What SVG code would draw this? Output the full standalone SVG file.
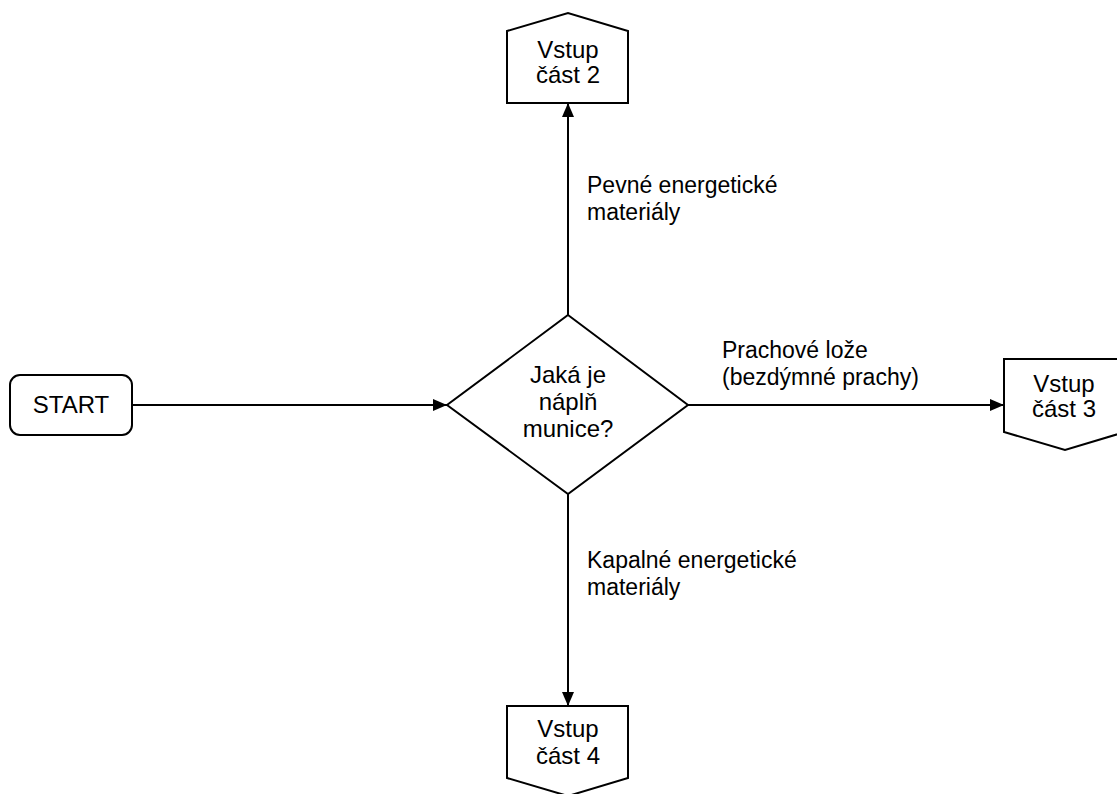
<svg xmlns="http://www.w3.org/2000/svg" width="1117" height="794" viewBox="0 0 1117 794">
<style>
.s{fill:#fff;stroke:#000;stroke-width:2;stroke-linejoin:miter}
.c{fill:none;stroke:#000;stroke-width:2}
text{font-family:"Liberation Sans",Arial,sans-serif;font-size:24px;fill:#000}
.l{font-size:23px}
.m{text-anchor:middle}
</style>
<defs>
<marker id="ah" viewBox="0 0 14 12" refX="14" refY="6" markerWidth="14" markerHeight="12" markerUnits="userSpaceOnUse" orient="auto">
<path d="M0,0 L14,6 L0,12 Z" fill="#000"/>
</marker>
</defs>
<rect width="1117" height="794" fill="#fff"/>
<g id="connectors">
<line class="c" x1="132" y1="405" x2="447" y2="405" marker-end="url(#ah)"/>
<line class="c" x1="568" y1="315" x2="568" y2="103" marker-end="url(#ah)"/>
<line class="c" x1="688" y1="405" x2="1004" y2="405" marker-end="url(#ah)"/>
<line class="c" x1="568" y1="494" x2="568" y2="706" marker-end="url(#ah)"/>
<text class="l" x="587" y="193">Pevné energetické</text>
<text class="l" x="587" y="220">materiály</text>
<text class="l" x="722" y="358">Prachové lože</text>
<text class="l" x="722" y="385">(bezdýmné prachy)</text>
<text class="l" x="587" y="568">Kapalné energetické</text>
<text class="l" x="587" y="595">materiály</text>
</g>
<g id="start">
<rect class="s" x="10" y="375" width="122" height="60" rx="10" ry="10"/>
<text class="m" x="71" y="413">START</text>
</g>
<g id="decision">
<polygon class="s" points="568,315 688,405 568,494 447,405"/>
<text class="m" x="568" y="383">Jaká je</text>
<text class="m" x="568" y="410">náplň</text>
<text class="m" x="568" y="437">munice?</text>
</g>
<g id="vstup2">
<polygon class="s" points="507,31 568,13 628,31 628,103 507,103"/>
<text class="m" x="568" y="58">Vstup</text>
<text class="m" x="568" y="83">část 2</text>
</g>
<g id="vstup3">
<polygon class="s" points="1004,359 1125,359 1125,432 1065,450 1004,432"/>
<text class="m" x="1064" y="392">Vstup</text>
<text class="m" x="1064" y="417">část 3</text>
</g>
<g id="vstup4">
<polygon class="s" points="507,706 628,706 628,778 568,796 507,778"/>
<text class="m" x="568" y="737">Vstup</text>
<text class="m" x="568" y="764">část 4</text>
</g>
</svg>
